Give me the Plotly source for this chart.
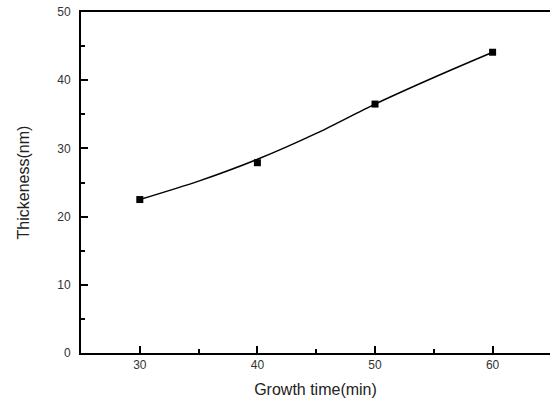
import plotly.graph_objects as go

# Measured data points
time_min = [30, 40, 50, 60]
thickness_nm = [22.5, 27.9, 36.5, 44.1]

# Smooth curve
curve_x = [30, 35, 40, 45, 50, 55, 60]
curve_y = [22.5, 25.2, 28.4, 32.2, 36.5, 40.4, 44.1]

x_ticks = [30, 40, 50, 60]
y_ticks = [0, 10, 20, 30, 40, 50]

fig = go.Figure()
fig.add_trace(go.Scatter(
    x=curve_x, y=curve_y, mode="lines",
    line=dict(color="black", width=1.5, shape="spline", smoothing=0.8),
    showlegend=False, hoverinfo="skip"))
fig.add_trace(go.Scatter(
    x=time_min, y=thickness_nm, mode="markers",
    marker=dict(symbol="square", size=7, color="black"),
    showlegend=False))

tickfont = dict(family="Arial, Liberation Sans, sans-serif", size=12, color="#333333")
titlefont = dict(family="Arial, Liberation Sans, sans-serif", size=16, color="#222222")

fig.update_layout(
    width=550, height=405,
    margin=dict(l=81, r=0, t=12, b=52),
    paper_bgcolor="white", plot_bgcolor="white",
    xaxis=dict(
        range=[25, 64.88], tickvals=x_ticks, ticktext=[str(v) for v in x_ticks],
        showline=True, linecolor="black", linewidth=2, mirror=True,
        ticks="inside", ticklen=7, tickwidth=1.5, tickcolor="black",
        minor=dict(ticks="inside", ticklen=4, tickwidth=1.5, dtick=5, tick0=25, tickcolor="black"),
        showgrid=False, zeroline=False, tickfont=tickfont, automargin=False,
        title=dict(text="Growth time(min)", font=titlefont, standoff=12)),
    yaxis=dict(
        range=[0, 50], tickvals=y_ticks, ticktext=[str(v) for v in y_ticks],
        showline=True, linecolor="black", linewidth=2, mirror=False,
        ticks="inside", ticklen=7, tickwidth=1.5, tickcolor="black",
        minor=dict(ticks="inside", ticklen=4, tickwidth=1.5, dtick=5, tickcolor="black"),
        showgrid=False, zeroline=False, tickfont=tickfont, automargin=False,
        ticklabelstandoff=6,
        title=dict(text="Thickeness(nm)", font=titlefont, standoff=24)),
)

# remove the browser's default body margin so the figure fills the window exactly
fig.write_html("out.html", config={"displayModeBar": False},
               post_script="document.body.style.margin='0px';")
